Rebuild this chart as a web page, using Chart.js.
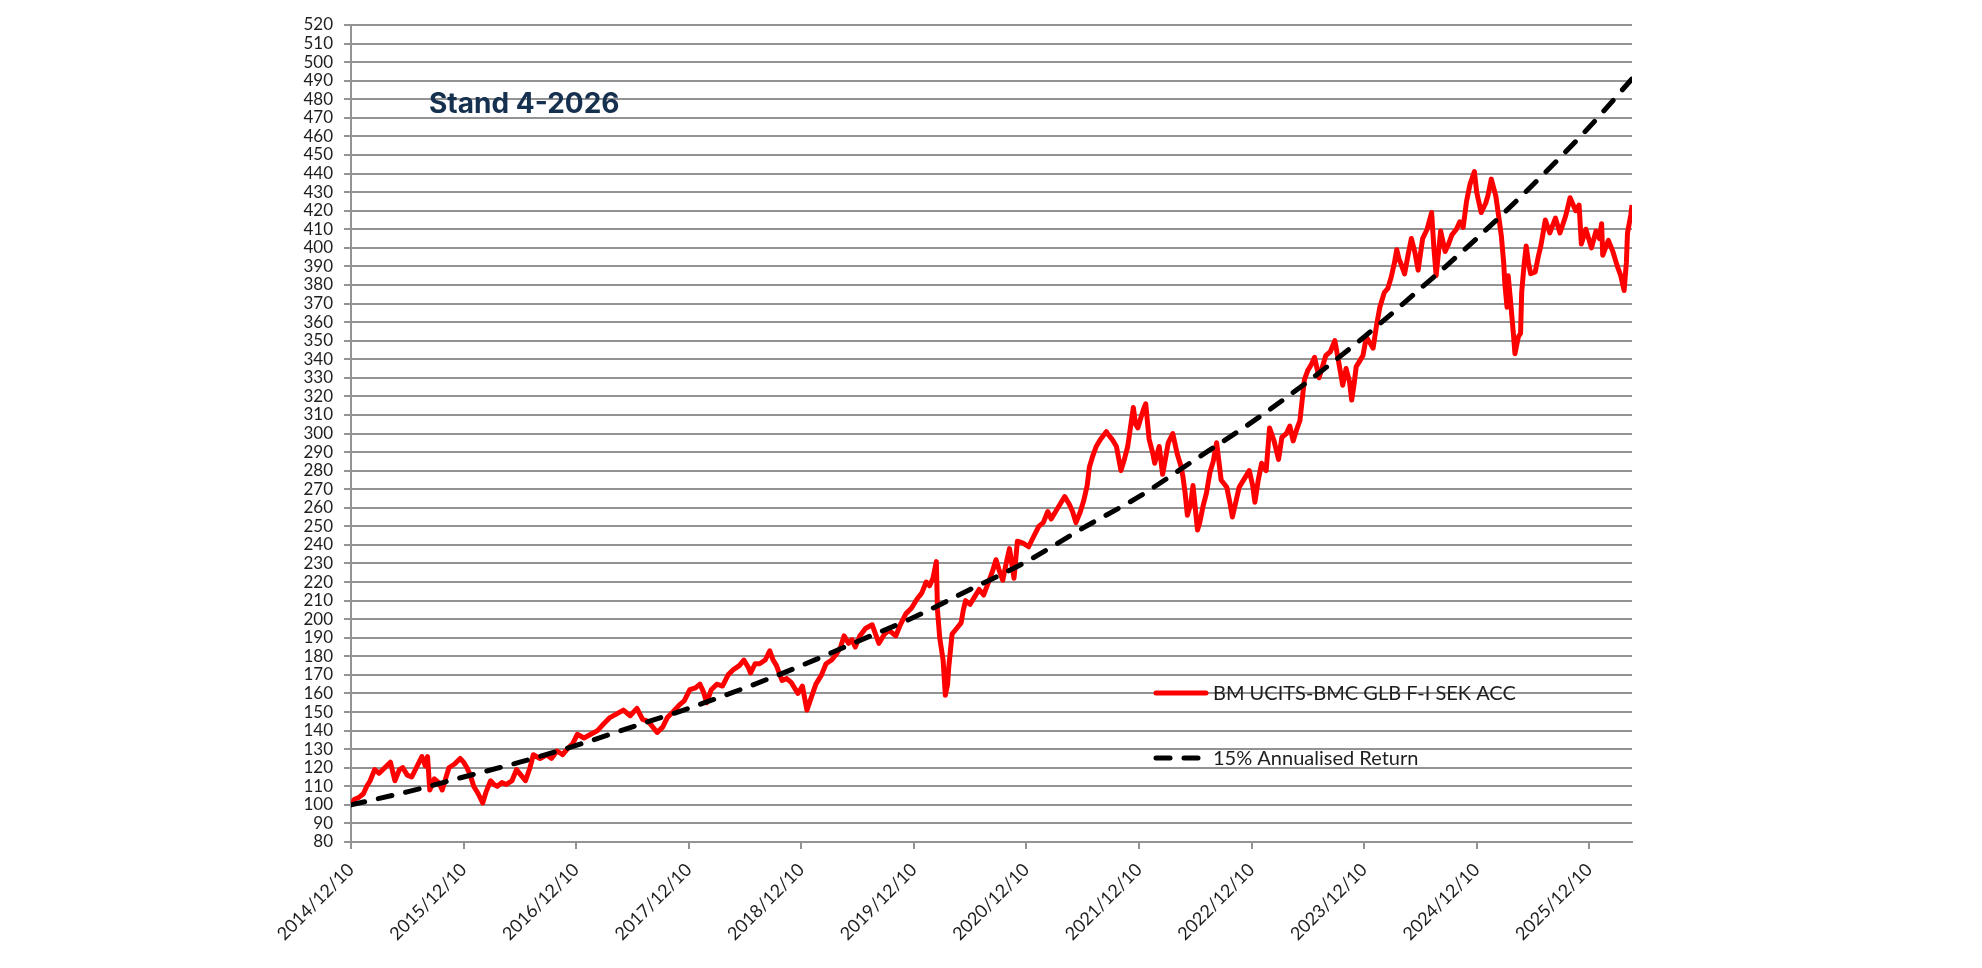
<!DOCTYPE html>
<html>
<head>
<meta charset="utf-8">
<script src="https://cdn.jsdelivr.net/npm/chart.js@4.4.1/dist/chart.umd.min.js"></script>
<style>
  html, body { margin: 0; padding: 0; background: #fff; }
  canvas { display: block; }
</style>
</head>
<body>
<canvas id="fundChart" width="1982" height="968"></canvas>
<script>
// x values are years since 2014/12/10
const tickLabels = ["2014/12/10", "2015/12/10", "2016/12/10", "2017/12/10", "2018/12/10", "2019/12/10",
  "2020/12/10", "2021/12/10", "2022/12/10", "2023/12/10", "2024/12/10", "2025/12/10"];

const fundName = "BM UCITS-BMC GLB F-I SEK ACC";
const trendName = "15% Annualised Return";

const fundYears = [
  0.00, 0.03, 0.07, 0.11, 0.14, 0.17, 0.21, 0.25, 0.30, 0.35, 0.39, 0.43, 0.46, 0.50, 0.54, 0.58, 0.63, 0.66, 0.68, 0.70,
  0.74, 0.78, 0.81, 0.84, 0.87, 0.92, 0.97, 1.00, 1.03, 1.06, 1.09, 1.13, 1.17, 1.20, 1.24, 1.27, 1.30, 1.34, 1.38, 1.43,
  1.47, 1.51, 1.55, 1.59, 1.62, 1.68, 1.74, 1.78, 1.83, 1.88, 1.92, 1.97, 2.01, 2.07, 2.13, 2.19, 2.25, 2.30, 2.36, 2.42,
  2.48, 2.54, 2.59, 2.64, 2.68, 2.72, 2.77, 2.81, 2.86, 2.92, 2.96, 3.01, 3.06, 3.10, 3.13, 3.16, 3.20, 3.25, 3.30, 3.35,
  3.40, 3.45, 3.49, 3.53, 3.55, 3.59, 3.63, 3.68, 3.72, 3.75, 3.78, 3.81, 3.83, 3.87, 3.91, 3.94, 3.97, 4.01, 4.05, 4.09,
  4.13, 4.18, 4.22, 4.27, 4.31, 4.35, 4.38, 4.42, 4.45, 4.48, 4.52, 4.57, 4.63, 4.66, 4.69, 4.74, 4.78, 4.84, 4.88, 4.93,
  4.98, 5.03, 5.07, 5.11, 5.14, 5.17, 5.20, 5.21, 5.23, 5.26, 5.28, 5.30, 5.31, 5.34, 5.38, 5.42, 5.44, 5.46, 5.50, 5.54,
  5.58, 5.62, 5.67, 5.70, 5.73, 5.76, 5.79, 5.82, 5.85, 5.89, 5.92, 5.97, 6.02, 6.06, 6.11, 6.15, 6.19, 6.22, 6.26, 6.30,
  6.34, 6.38, 6.41, 6.44, 6.48, 6.51, 6.54, 6.56, 6.59, 6.62, 6.66, 6.71, 6.72, 6.76, 6.80, 6.84, 6.87, 6.90, 6.95, 6.97,
  6.99, 7.02, 7.04, 7.06, 7.09, 7.12, 7.14, 7.18, 7.21, 7.24, 7.26, 7.30, 7.34, 7.37, 7.39, 7.41, 7.43, 7.46, 7.48, 7.50,
  7.52, 7.54, 7.57, 7.60, 7.63, 7.66, 7.69, 7.71, 7.73, 7.78, 7.81, 7.83, 7.86, 7.89, 7.93, 7.98, 8.01, 8.03, 8.06, 8.09,
  8.13, 8.16, 8.20, 8.24, 8.27, 8.31, 8.34, 8.37, 8.40, 8.43, 8.45, 8.47, 8.50, 8.53, 8.56, 8.60, 8.63, 8.66, 8.70, 8.74,
  8.77, 8.81, 8.84, 8.87, 8.89, 8.91, 8.93, 8.96, 8.99, 9.02, 9.05, 9.08, 9.11, 9.14, 9.16, 9.18, 9.21, 9.24, 9.27, 9.29,
  9.31, 9.33, 9.36, 9.39, 9.42, 9.45, 9.48, 9.52, 9.56, 9.60, 9.62, 9.64, 9.68, 9.72, 9.75, 9.78, 9.82, 9.85, 9.88, 9.91,
  9.94, 9.98, 10.00, 10.04, 10.08, 10.10, 10.13, 10.17, 10.20, 10.22, 10.24, 10.25, 10.27, 10.28, 10.30, 10.33, 10.34, 10.37, 10.39, 10.40,
  10.42, 10.44, 10.46, 10.48, 10.52, 10.55, 10.57, 10.59, 10.61, 10.65, 10.70, 10.74, 10.79, 10.81, 10.83, 10.88, 10.91, 10.93, 10.97, 11.02,
  11.06, 11.09, 11.11, 11.12, 11.17, 11.21, 11.25, 11.28, 11.31, 11.33, 11.34, 11.37, 11.38
];
const fundValues = [
  100, 103, 104, 106, 110, 113, 119, 117, 120, 123, 113, 119, 120, 116, 115, 120, 126, 121, 126, 108,
  114, 112, 108, 114, 120, 122, 125, 123, 120, 116, 110, 106, 101, 107, 113, 111, 110, 112, 111, 113,
  119, 116, 113, 120, 127, 125, 127, 125, 129, 127, 130, 133, 138, 136, 138, 140, 144, 147, 149, 151,
  148, 152, 146, 145, 142, 139, 142, 147, 150, 154, 156, 162, 163, 165, 161, 155, 162, 165, 164, 170,
  173, 175, 178, 174, 171, 176, 176, 178, 183, 178, 175, 170, 167, 168, 166, 163, 160, 164, 151, 158,
  165, 170, 176, 178, 181, 185, 191, 187, 189, 185, 191, 195, 197, 192, 187, 192, 194, 191, 197, 203,
  206, 211, 214, 220, 218, 222, 231, 205, 190, 178, 159, 165, 174, 192, 195, 198, 205, 210, 208, 212,
  216, 213, 221, 226, 232, 226, 221, 230, 238, 222, 242, 241, 239, 244, 250, 252, 258, 254, 258, 262,
  266, 262, 258, 252, 258, 264, 272, 282, 288, 293, 297, 301, 300, 297, 293, 280, 286, 293, 314, 305,
  303, 309, 313, 316, 297, 290, 284, 293, 278, 288, 295, 300, 289, 283, 277, 268, 256, 262, 272, 260,
  248, 252, 261, 268, 279, 285, 295, 285, 275, 271, 262, 255, 263, 271, 275, 280, 272, 263, 275, 284,
  280, 303, 296, 286, 298, 300, 304, 296, 302, 307, 318, 329, 334, 337, 341, 330, 336, 342, 344, 350,
  340, 326, 335, 328, 318, 326, 336, 339, 342, 352, 349, 346, 358, 368, 372, 376, 378, 384, 392, 399,
  394, 391, 386, 396, 405, 398, 388, 405, 410, 419, 400, 385, 409, 398, 402, 407, 410, 414, 411, 425,
  434, 441, 430, 419, 424, 428, 437, 428, 415, 406, 392, 381, 368, 385, 372, 351, 343, 352, 354, 376,
  390, 401, 392, 386, 387, 396, 401, 408, 415, 408, 416, 408, 417, 422, 427, 420, 423, 402, 410, 400,
  409, 405, 413, 396, 404, 398, 390, 385, 377, 392, 408, 418, 423
];

const trendYears = [0, 0.5, 1, 1.5, 2, 2.5, 3, 3.5, 4, 4.5, 5, 5.5, 6, 6.5, 7, 7.5, 8, 8.5, 9, 9.5, 10, 10.5, 11, 11.38];
const trendValues = [100, 107, 115, 123, 132, 142, 152, 163, 175, 188, 201, 216, 231, 249, 266, 286, 306, 328, 352, 378, 405, 434, 465, 491];

const fundPoints = fundYears.map((x, i) => ({ x: x, y: fundValues[i] }));
const trendPoints = trendYears.map((x, i) => ({ x: x, y: trendValues[i] }));

const gridColor = "#939393";
const textColor = "#1e1e1e";
const tickFont = { family: "Lato", size: 17 };

// legend sits inside the plot, lower right
const innerLegend = {
  id: "innerLegend",
  afterDraw: chart => {
    const ctx = chart.ctx;
    const rows = [
      { ds: chart.data.datasets[0], y: 693 },
      { ds: chart.data.datasets[1], y: 758 }
    ];
    ctx.save();
    rows.forEach(r => {
      ctx.beginPath();
      ctx.strokeStyle = r.ds.borderColor;
      ctx.lineWidth = r.ds.borderWidth;
      ctx.lineCap = "round";
      ctx.setLineDash(r.ds.borderDash || []);
      ctx.moveTo(1156, r.y);
      ctx.lineTo(1206, r.y);
      ctx.stroke();
      ctx.setLineDash([]);
      ctx.fillStyle = textColor;
      ctx.font = "20px Lato";
      ctx.textBaseline = "middle";
      ctx.fillText(r.ds.label, 1213, r.y + 1);
    });
    ctx.font = "bold 28px Inter";
    ctx.fillStyle = "#16304f";
    ctx.textBaseline = "middle";
    ctx.fillText("Stand 4-2026", 429, 105);
    ctx.restore();
  }
};

const ctx = document.getElementById("fundChart").getContext("2d");

const fundChart = new Chart(ctx, {
  type: "line",
  plugins: [innerLegend],
  data: {
    datasets: [
      {
        label: fundName,
        data: fundPoints,
        borderColor: "#ff0000",
        backgroundColor: "#ff0000",
        borderWidth: 5,
        pointRadius: 0,
        tension: 0,
        borderJoinStyle: "round",
        order: 1
      },
      {
        label: trendName,
        data: trendPoints,
        borderColor: "#000000",
        backgroundColor: "#000000",
        borderWidth: 5,
        borderDash: [14, 14],
        borderCapStyle: "round",
        pointRadius: 0,
        tension: 0.4,
        cubicInterpolationMode: "monotone",
        order: 0
      }
    ]
  },
  options: {
    responsive: false,
    animation: false,
    layout: {
      padding: { top: 25, right: 350, bottom: 0, left: 0 }
    },
    plugins: {
      legend: { display: false },
      title: { display: false },
      tooltip: { enabled: false }
    },
    scales: {
      x: {
        type: "linear",
        min: 0,
        max: 11.38,
        afterBuildTicks: scale => {
          scale.ticks = tickLabels.map((l, i) => ({ value: i }));
        },
        afterFit: scale => {
          scale.height = 126;
        },
        ticks: {
          autoSkip: false,
          minRotation: 45,
          maxRotation: 45,
          padding: 10,
          color: textColor,
          font: { family: "Lato", size: 18 },
          callback: value => tickLabels[value]
        },
        grid: {
          drawOnChartArea: false,
          drawTicks: true,
          tickLength: 7,
          color: gridColor,
          lineWidth: 2
        },
        border: { color: gridColor, width: 2 }
      },
      y: {
        min: 80,
        max: 520,
        afterFit: scale => {
          scale.width = 351;
        },
        ticks: {
          stepSize: 10,
          autoSkip: false,
          padding: 11,
          color: textColor,
          font: tickFont
        },
        grid: {
          color: gridColor,
          lineWidth: 2,
          tickLength: 7
        },
        border: { color: gridColor, width: 2 }
      }
    }
  }
});
</script>
</body>
</html>
